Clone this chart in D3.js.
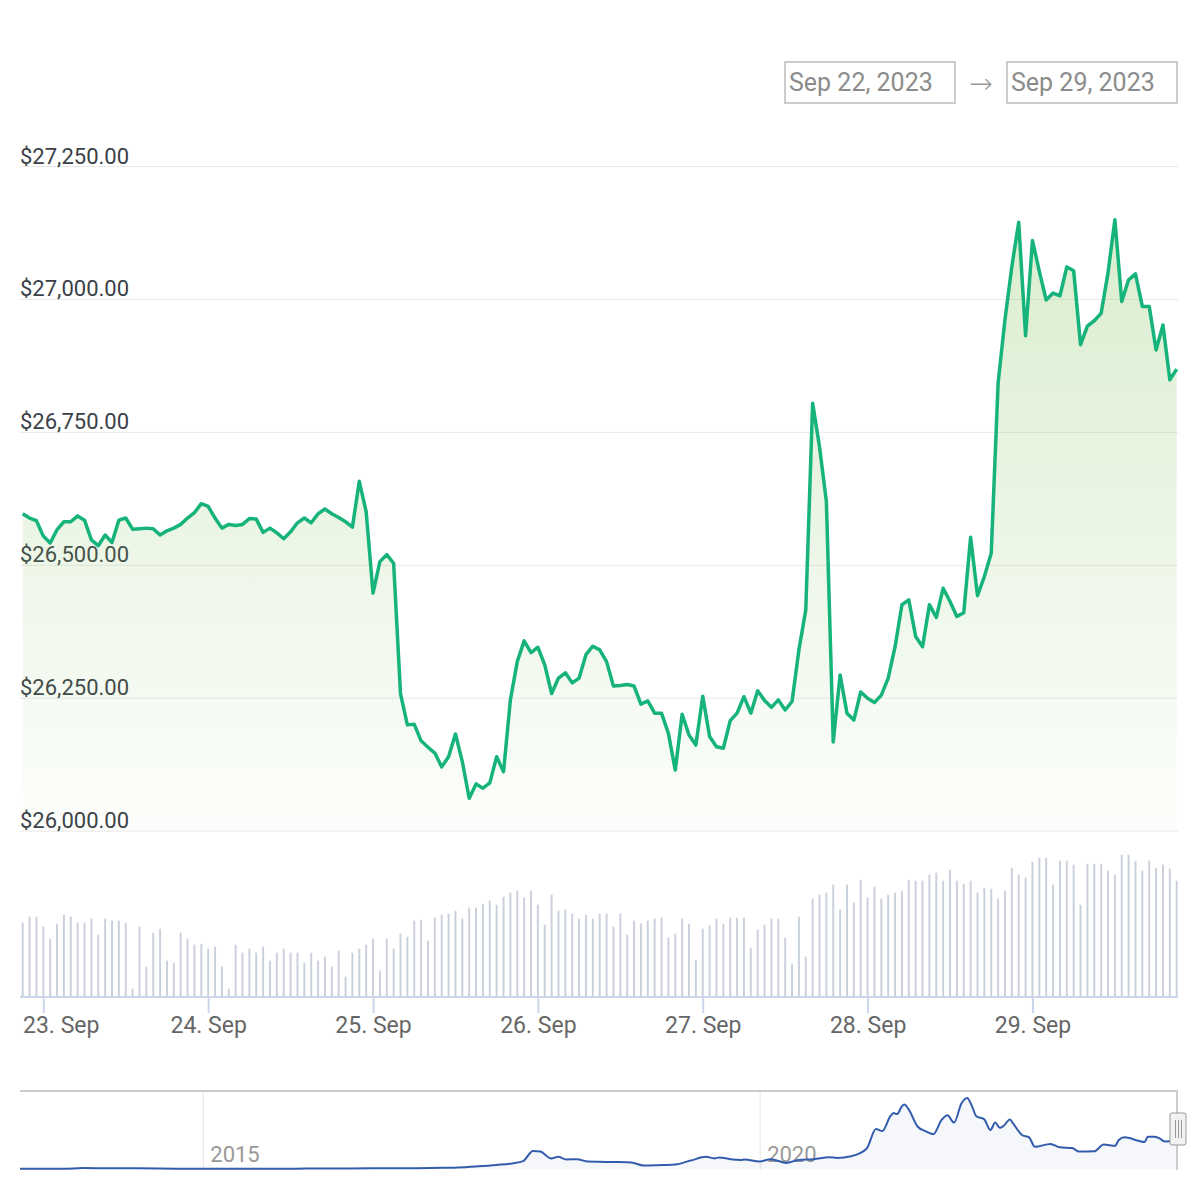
<!DOCTYPE html>
<html>
<head>
<meta charset="utf-8">
<script src="https://cdn.jsdelivr.net/npm/d3@7"></script>
<style>
  body { margin: 0; background: #fff; }
  svg { display: block; font-family: Roboto, "Noto Sans", sans-serif; }
</style>
</head>
<body>
<svg id="chart" width="1200" height="1200"></svg>
<script>
// hourly series, first point Sep 22 2023 21:00 UTC
const startTime = Date.UTC(2023, 8, 22, 21);

const prices = [
  26596, 26588, 26583, 26554, 26541, 26566, 26581, 26581, 26592, 26584,
  26547, 26536, 26556, 26542, 26584, 26588, 26567, 26568, 26569, 26568,
  26556, 26564, 26569, 26576, 26588, 26598, 26615, 26610, 26588, 26569,
  26576, 26574, 26576, 26587, 26586, 26561, 26569, 26560, 26549, 26562,
  26579, 26588, 26579, 26596, 26605, 26596, 26589, 26581, 26571, 26657,
  26600, 26447, 26506, 26519, 26503, 26258, 26199, 26200, 26169, 26157,
  26146, 26120, 26139, 26182, 26130, 26061, 26088, 26080, 26090, 26139,
  26111, 26246, 26318, 26357, 26335, 26345, 26312, 26258, 26287, 26297,
  26278, 26287, 26331, 26347, 26340, 26318, 26272, 26273, 26275, 26272,
  26238, 26244, 26221, 26221, 26183, 26114, 26219, 26180, 26161, 26253,
  26177, 26158, 26155, 26207, 26221, 26252, 26221, 26263, 26245, 26232,
  26246, 26227, 26243, 26340, 26415, 26804, 26722, 26619, 26167, 26293,
  26221, 26208, 26261, 26249, 26241, 26255, 26287, 26346, 26425, 26434,
  26365, 26346, 26425, 26401, 26456, 26431, 26403, 26410, 26552, 26442,
  26478, 26522, 26842, 26961, 27061, 27144, 26931, 27110, 27052, 26998,
  27011, 27006, 27060, 27053, 26914, 26949, 26959, 26973, 27049, 27149,
  26995, 27036, 27047, 26986, 26986, 26904, 26951, 26848, 26868
];

// volume (relative units)
const volumes = [
  74, 80, 80, 70, 58, 73, 82, 80, 74, 74,
  78, 62, 78, 76, 76, 74, 8, 70, 30, 64,
  68, 36, 34, 64, 58, 52, 53, 48, 50, 30,
  8, 52, 44, 48, 44, 50, 36, 44, 48, 44,
  44, 34, 44, 36, 40, 30, 46, 20, 44, 48,
  52, 58, 26, 58, 48, 63, 60, 76, 77, 56,
  79, 82, 83, 86, 78, 89, 89, 93, 96, 92,
  100, 104, 106, 99, 106, 92, 72, 102, 86, 87,
  83, 78, 82, 78, 83, 83, 70, 83, 62, 76,
  73, 76, 78, 79, 59, 63, 78, 73, 37, 68,
  71, 78, 73, 79, 79, 79, 49, 67, 72, 78,
  78, 59, 33, 80, 40, 98, 102, 104, 112, 87,
  112, 94, 117, 99, 110, 98, 102, 104, 106, 117,
  116, 116, 122, 124, 116, 127, 116, 113, 116, 104,
  109, 108, 98, 106, 129, 122, 119, 135, 139, 139,
  112, 136, 136, 132, 92, 133, 133, 133, 126, 122,
  142, 142, 136, 126, 136, 129, 132, 128, 116
];

const yTicks = [26000, 26250, 26500, 26750, 27000, 27250];
const rangeLabels = ["Sep 22, 2023", "Sep 29, 2023"];

// navigator: long-term price ($k)
const navDates = [
  "2013-05-10", "2013-10-01", "2013-12-01", "2014-03-01", "2014-06-01", "2014-10-01",
  "2015-01-15", "2015-06-01", "2015-11-01", "2016-03-01", "2016-07-01", "2016-12-01",
  "2017-03-01", "2017-04-15", "2017-06-20", "2017-08-20", "2017-10-10", "2017-11-15",
  "2017-12-17", "2018-01-10", "2018-02-15", "2018-03-10", "2018-04-05", "2018-05-10",
  "2018-06-15", "2018-07-20", "2018-09-15", "2018-11-05", "2018-12-15", "2019-02-01",
  "2019-03-28", "2019-05-18", "2019-07-08", "2019-08-04", "2019-08-20", "2019-09-25",
  "2019-10-30", "2019-11-10", "2019-12-31", "2020-02-05", "2020-03-27", "2020-05-05",
  "2020-06-25", "2020-08-15", "2020-09-10", "2020-10-25", "2020-12-15", "2021-01-15",
  "2021-02-05", "2021-03-03", "2021-03-14", "2021-03-25", "2021-04-10", "2021-04-18",
  "2021-05-01", "2021-06-01", "2021-06-25", "2021-07-22", "2021-08-18", "2021-09-06",
  "2021-09-28", "2021-10-22", "2021-11-10", "2021-11-25", "2021-12-10", "2022-01-05",
  "2022-01-25", "2022-02-10", "2022-02-25", "2022-03-10", "2022-03-30", "2022-04-10",
  "2022-05-10", "2022-06-01", "2022-06-20", "2022-08-10", "2022-09-10", "2022-10-20",
  "2022-11-12", "2022-12-31", "2023-02-01", "2023-03-10", "2023-03-22", "2023-04-10",
  "2023-05-25", "2023-06-15", "2023-06-25", "2023-07-15", "2023-08-01", "2023-08-20",
  "2023-09-29"
];
const navPrices = [
  0.12, 0.14, 0.9, 0.6, 0.6, 0.35,
  0.25, 0.24, 0.35, 0.42, 0.65, 0.8,
  1.2, 1.5, 2.6, 3.9, 5.3, 7.5,
  17, 16.5, 10, 11.5, 9, 9.3,
  7, 6.8, 6.6, 6.2, 3.3, 3.6,
  4.2, 8.0, 11.5, 10, 11, 9.3,
  8.6, 9.0, 7.2, 9.3, 5.8, 8.6,
  9.3, 11.2, 10.4, 12, 19.2, 37.8,
  36, 50, 53, 52, 59.5, 61,
  57, 40, 36, 33, 46.5, 51,
  44, 62, 67.3, 60, 50, 47,
  37, 44, 39, 41, 47, 43,
  32, 30, 21, 23.8, 20.5, 19.8,
  16.5, 16.7, 23.2, 22, 27.5, 30,
  26.8, 25.5, 30.5, 30.5, 29.3, 26.1,
  26.9
];
const navYears = ["2015-01-01", "2020-01-01"];

const svg = d3.select("#chart");
const left = 20, right = 1178;

const times = prices.map((_, i) => new Date(startTime + i * 3600e3));

const x = d3.scaleUtc()
  .domain([times[0], times[times.length - 1]])
  .range([22.7, 1176.7]);

const y = d3.scaleLinear()
  .domain([26000, 27250])
  .range([830.7, 166]);

const yVol = d3.scaleLinear()
  .domain([0, 150])
  .range([996.7, 846.7]);

// gradient for the price area
const defs = svg.append("defs");
const grad = defs.append("linearGradient")
  .attr("id", "areaGrad")
  .attr("gradientUnits", "userSpaceOnUse")
  .attr("x1", 0).attr("x2", 0)
  .attr("y1", y(27250)).attr("y2", y(26000));
grad.append("stop").attr("offset", 0).attr("stop-color", "rgb(130,195,90)").attr("stop-opacity", 0.32);
grad.append("stop").attr("offset", 1).attr("stop-color", "rgb(130,195,90)").attr("stop-opacity", 0.02);

// date range inputs
const boxX = [785, 1007];
rangeLabels.forEach((t, i) => {
  svg.append("rect")
    .attr("x", boxX[i]).attr("y", 62)
    .attr("width", 170).attr("height", 41)
    .attr("fill", "none")
    .attr("stroke", "#cccccc")
    .attr("stroke-width", 2);
  svg.append("text")
    .attr("x", boxX[i] + 4).attr("y", 91)
    .style("font-size", "25px")
    .style("fill", "#8c8c8c")
    .text(t);
});
svg.append("text")
  .attr("x", 981).attr("y", 93)
  .attr("text-anchor", "middle")
  .style("font-size", "28px")
  .style("font-family", "DejaVu Sans")
  .style("font-weight", 200)
  .style("fill", "#9a9a9a")
  .text("→");

// y grid + labels
const yAxis = d3.axisRight(y)
  .tickValues(yTicks)
  .tickSize(right - left)
  .tickFormat(d3.format("$,.2f"));

const yg = svg.append("g")
  .attr("transform", `translate(${left},0)`)
  .call(yAxis);
yg.select(".domain").remove();
yg.selectAll(".tick line").attr("stroke", "#e9e9e9").attr("stroke-width", 1);
yg.selectAll(".tick text")
  .attr("x", 0)
  .attr("dy", -3)
  .attr("text-anchor", "start")
  .style("font-size", "22px")
  .style("font-family", "Roboto")
  .style("fill", "#3b4048");

// price area + line
svg.append("path")
  .datum(prices)
  .attr("fill", "url(#areaGrad)")
  .attr("d", d3.area()
    .x((d, i) => x(times[i]))
    .y0(y(26000))
    .y1(d => y(d)));

svg.append("path")
  .datum(prices)
  .attr("fill", "none")
  .attr("stroke", "#16b37a")
  .attr("stroke-width", 3.5)
  .attr("stroke-linejoin", "round")
  .attr("d", d3.line()
    .x((d, i) => x(times[i]))
    .y(d => y(d)));

// volume bars
svg.append("g")
  .selectAll("rect")
  .data(volumes)
  .join("rect")
  .attr("x", (d, i) => x(times[i]) - 1)
  .attr("y", d => yVol(d))
  .attr("width", 2)
  .attr("height", d => yVol(0) - yVol(d))
  .attr("fill", "#cbd1dc");

// x axis
svg.append("line")
  .attr("x1", left).attr("x2", right)
  .attr("y1", 997).attr("y2", 997)
  .attr("stroke", "#ccd6eb")
  .attr("stroke-width", 2);

const xAxis = d3.axisBottom(x)
  .ticks(d3.utcDay.every(1))
  .tickSize(16)
  .tickSizeOuter(0)
  .tickFormat(d3.utcFormat("%-d. %b"));

const xg = svg.append("g")
  .attr("transform", "translate(0,997)")
  .call(xAxis);
xg.select(".domain").remove();
xg.selectAll(".tick line").attr("stroke", "#ccd6eb").attr("stroke-width", 2);
xg.selectAll(".tick text")
  .attr("y", 36)
  .attr("dy", 0)
  .style("font-size", "23px")
  .style("font-family", "Roboto")
  .style("fill", "#666666")
  .each(function () {
    // keep labels inside the plot
    const t = d3.select(this);
    const w = this.getComputedTextLength();
    const tx = +d3.select(this.parentNode).attr("transform").match(/translate\(([\d.]+)/)[1];
    if (tx - w / 2 < 23) t.attr("x", 23 + w / 2 - tx);
  });

// navigator
const navX = d3.scaleUtc()
  .domain([new Date("2013-05-10"), new Date("2023-09-29")])
  .range([20, 1177]);
const navY = d3.scaleLinear()
  .domain([0, 72])
  .range([1169, 1093]);

const nav = svg.append("g");
navYears.forEach(s => {
  const d = new Date(s);
  nav.append("line")
    .attr("x1", navX(d)).attr("x2", navX(d))
    .attr("y1", 1091).attr("y2", 1170)
    .attr("stroke", "#e6e6e6")
    .attr("stroke-width", 1);
  nav.append("text")
    .attr("x", navX(d) + 7).attr("y", 1162)
    .style("font-size", "22px")
    .style("fill", "#999999")
    .text(d.getUTCFullYear());
});

const navData = navDates.map((s, i) => [new Date(s), navPrices[i]]);
nav.append("path")
  .datum(navData)
  .attr("fill", "rgba(51,92,173,0.05)")
  .attr("d", d3.area()
    .x(d => navX(d[0]))
    .y0(navY(0))
    .y1(d => navY(d[1]))
    .curve(d3.curveMonotoneX));
nav.append("path")
  .datum(navData)
  .attr("fill", "none")
  .attr("stroke", "#335cad")
  .attr("stroke-width", 2)
  .attr("d", d3.line()
    .x(d => navX(d[0]))
    .y(d => navY(d[1]))
    .curve(d3.curveMonotoneX));

// navigator outline + handle
nav.append("path")
  .attr("d", "M20,1091 H1177 V1170")
  .attr("fill", "none")
  .attr("stroke", "#cccccc")
  .attr("stroke-width", 2);
nav.append("rect")
  .attr("x", 1170).attr("y", 1113)
  .attr("width", 16).attr("height", 32)
  .attr("rx", 2)
  .attr("fill", "#f2f2f2")
  .attr("stroke", "#999999")
  .attr("stroke-width", 1);
[1175.5, 1178.5, 1181.5].forEach(lx => {
  nav.append("line")
    .attr("x1", lx).attr("x2", lx)
    .attr("y1", 1120).attr("y2", 1138)
    .attr("stroke", "#999999")
    .attr("stroke-width", 1);
});
</script>
</body>
</html>
